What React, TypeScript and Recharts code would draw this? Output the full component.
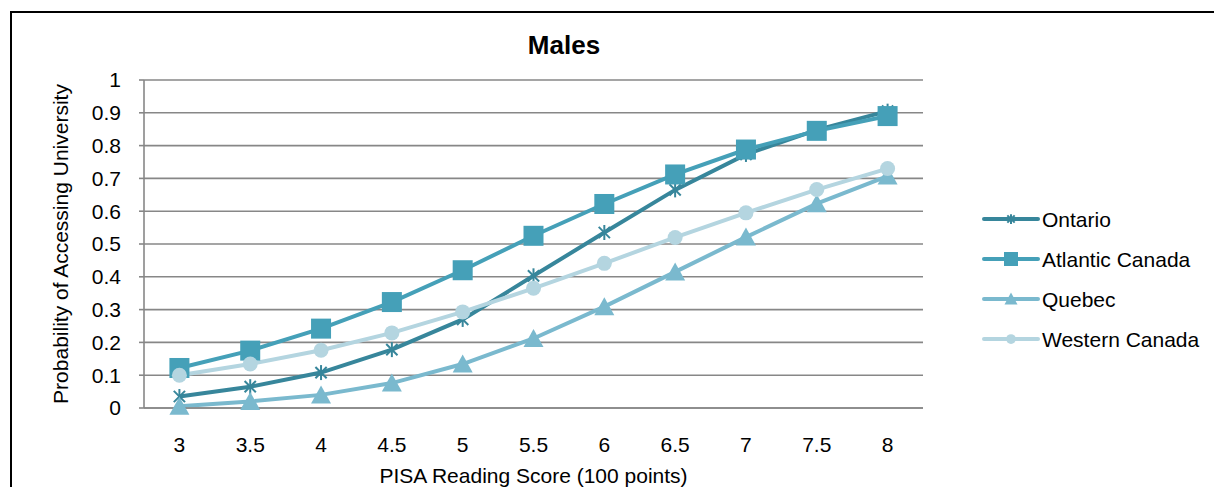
import React from 'react';
import { LineChart, Line, XAxis, YAxis, CartesianGrid, Label } from 'recharts';

// PISA reading score (hundreds of points)
const scores = [3, 3.5, 4, 4.5, 5, 5.5, 6, 6.5, 7, 7.5, 8];
// category edges for the tick marks between scores
const scoreEdges = [2.75, 3.25, 3.75, 4.25, 4.75, 5.25, 5.75, 6.25, 6.75, 7.25, 7.75, 8.25];
const probTicks = [0, 0.1, 0.2, 0.3, 0.4, 0.5, 0.6, 0.7, 0.8, 0.9, 1];

const ontario = [0.035, 0.065, 0.108, 0.178, 0.27, 0.403, 0.535, 0.665, 0.773, 0.848, 0.905];
const atlantic = [0.122, 0.175, 0.242, 0.323, 0.42, 0.525, 0.622, 0.712, 0.788, 0.845, 0.89];
const quebec = [0.005, 0.02, 0.04, 0.076, 0.134, 0.212, 0.309, 0.415, 0.521, 0.623, 0.707];
const western = [0.1, 0.134, 0.176, 0.229, 0.293, 0.365, 0.441, 0.52, 0.595, 0.666, 0.73];

type Shape = 'star' | 'square' | 'triangle' | 'circle';

const SERIES: { key: string; name: string; color: string; shape: Shape }[] = [
  { key: 'ontario', name: 'Ontario', color: '#37869B', shape: 'star' },
  { key: 'atlantic', name: 'Atlantic Canada', color: '#45A0B8', shape: 'square' },
  { key: 'quebec', name: 'Quebec', color: '#7AB9CE', shape: 'triangle' },
  { key: 'western', name: 'Western Canada', color: '#B4D5E0', shape: 'circle' },
];

const data = scores.map((score, i) => ({
  score,
  ontario: ontario[i],
  atlantic: atlantic[i],
  quebec: quebec[i],
  western: western[i],
}));

const FONT = '"Liberation Sans", Arial, sans-serif';
const FS = 21;
const GRID = '#878787';

function marker(shape: Shape, cx: number, cy: number, color: string, size: number, key?: string) {
  const h = size / 2;
  if (shape === 'square') {
    return <rect key={key} x={cx - h} y={cy - h} width={size} height={size} fill={color} />;
  }
  if (shape === 'circle') {
    return <circle key={key} cx={cx} cy={cy} r={h * 0.75} fill={color} />;
  }
  if (shape === 'triangle') {
    const th = size * 0.85;
    return (
      <polygon
        key={key}
        points={`${cx},${cy - th / 2 - 1} ${cx + h},${cy + th / 2} ${cx - h},${cy + th / 2}`}
        fill={color}
      />
    );
  }
  const a = h * 0.75;
  const d = a * 0.75;
  return (
    <g key={key} stroke={color} strokeWidth={2}>
      <line x1={cx} y1={cy - a} x2={cx} y2={cy + a} />
      <line x1={cx - d} y1={cy - d} x2={cx + d} y2={cy + d} />
      <line x1={cx - d} y1={cy + d} x2={cx + d} y2={cy - d} />
    </g>
  );
}

const makeDot = (shape: Shape, color: string) => (props: any) => {
  const { cx, cy, index } = props;
  if (cx == null || cy == null) return <g key={`d-${index}`} />;
  return marker(shape, cx, cy, color, 20, `d-${shape}-${index}`);
};

const LegendBox = () => (
  <svg width={234} height={170} style={{ position: 'absolute', left: 980, top: 195 }}>
    {SERIES.map((s, i) => {
      const y = 24 + i * 40;
      return (
        <g key={s.key}>
          <line x1={4} y1={y} x2={58} y2={y} stroke={s.color} strokeWidth={4} strokeLinecap="round" />
          {marker(s.shape, 31, y, s.color, s.shape === 'square' ? 14 : 13)}
          <text x={62} y={y + 7.5} fontSize={FS} fontFamily={FONT} fill="#000">
            {s.name}
          </text>
        </g>
      );
    })}
  </svg>
);

export default function App() {
  return (
    <div style={{ position: 'absolute', left: 0, top: 0, width: 1214, height: 487, overflow: 'hidden', background: '#fff' }}>
      <div
        style={{
          position: 'absolute',
          left: 10,
          top: 11,
          width: 1240,
          height: 520,
          border: '2px solid #000',
        }}
      />
      <div
        style={{
          position: 'absolute',
          left: 364,
          width: 400,
          top: 32,
          textAlign: 'center',
          fontFamily: FONT,
          fontWeight: 'bold',
          fontSize: 26,
          lineHeight: '26px',
        }}
      >
        Males
      </div>
      <div style={{ position: 'absolute', left: 0, top: 0 }}>
        <LineChart width={1214} height={487} data={data} margin={{ top: 80, right: 291, bottom: 0, left: 0 }}>
          <CartesianGrid vertical={false} stroke={GRID} strokeWidth={1.6} />
          <XAxis
            xAxisId="edges"
            dataKey="score"
            type="number"
            domain={[2.75, 8.25]}
            ticks={scoreEdges}
            interval={0}
            height={6}
            tick={false}
            tickSize={5}
            stroke={GRID}
            strokeWidth={1.6}
          />
          <XAxis
            xAxisId="labels"
            dataKey="score"
            type="number"
            domain={[2.75, 8.25]}
            ticks={scores}
            interval={0}
            height={73}
            axisLine={false}
            tickLine={false}
            tickSize={0}
            tickMargin={23}
            tick={{ fill: '#000', fontSize: FS, fontFamily: FONT }}
          >
            <Label
              value="PISA Reading Score (100 points)"
              position="insideBottom"
              offset={4}
              style={{ fill: '#000', fontSize: FS, fontFamily: FONT }}
            />
          </XAxis>
          <YAxis
            type="number"
            domain={[0, 1]}
            ticks={probTicks}
            interval={0}
            width={144}
            tickSize={5}
            tickMargin={18}
            stroke={GRID}
            strokeWidth={1.6}
            tick={{ fill: '#000', fontSize: FS, fontFamily: FONT }}
          >
            <Label
              value="Probability of Accessing University"
              angle={-90}
              position="insideLeft"
              offset={61}
              style={{ textAnchor: 'middle', fill: '#000', fontSize: FS, fontFamily: FONT }}
            />
          </YAxis>
          {SERIES.map(s => (
            <Line
              key={s.key}
              xAxisId="labels"
              type="linear"
              dataKey={s.key}
              name={s.name}
              stroke={s.color}
              strokeWidth={4}
              dot={makeDot(s.shape, s.color)}
              activeDot={false}
              isAnimationActive={false}
            />
          ))}
        </LineChart>
      </div>
      <LegendBox />
    </div>
  );
}
